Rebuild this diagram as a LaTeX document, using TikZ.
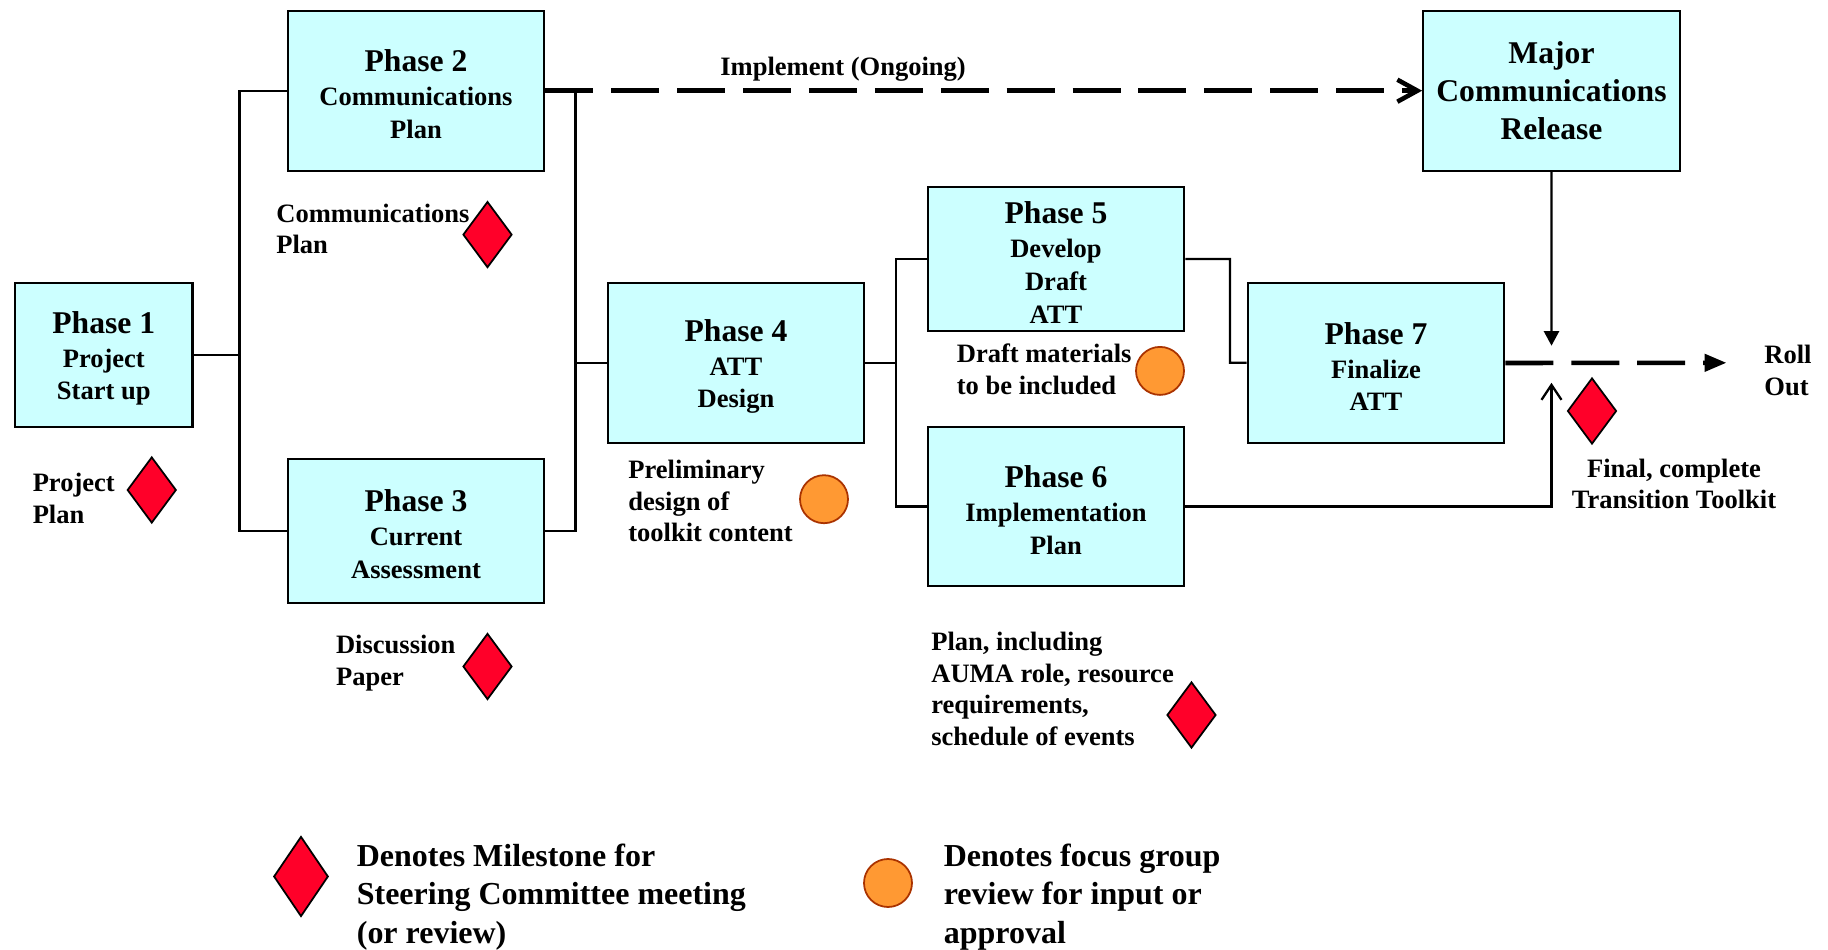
\documentclass[tikz,border=0pt]{standalone}
\usepackage{fontspec}
\setmainfont{Liberation Serif}
\usetikzlibrary{arrows.meta,positioning,shapes.geometric}
\definecolor{boxcyan}{RGB}{204,255,255}
\definecolor{msred}{RGB}{255,0,41}
\definecolor{fgorange}{RGB}{255,153,51}
\definecolor{fgedge}{RGB}{170,51,0}
\newcommand{\phasefont}{\fontsize{18}{18.5}\selectfont\rule{0pt}{16.5pt}}
\tikzset{%
	phasebox/.style  = {draw, rectangle, fill=boxcyan, line width=1.3pt, minimum width=5.13cm, minimum height=3.2cm, inner sep=0pt, align=center, font=\fontsize{15.1}{18.5}\selectfont\bfseries}, % Phase
	release/.style   = {phasebox, font=\fontsize{18}{21.6}\selectfont\bfseries}, % Release
	milestone/.style = {draw, diamond, fill=msred, line width=1pt, inner sep=0pt, minimum width=0.98cm, minimum height=1.32cm}, % Milestone
	focus/.style     = {draw=fgedge, circle, fill=fgorange, line width=1pt, inner sep=0pt, minimum size=0.96cm}, % Focus group
	note/.style      = {inner sep=0pt, align=left, anchor=base west, font=\fontsize{15.1}{17.9}\selectfont\bfseries}, % Label
	legendtext/.style= {inner sep=0pt, align=left, anchor=base west, font=\fontsize{18.2}{21.8}\selectfont\bfseries}, % Legend
	link/.style      = {line width=1.3pt},
	ongoing/.style   = {line width=2.6pt, dash pattern=on 27.3pt off 10.2pt},
}

\begin{document}
\begin{tikzpicture}[node distance=5cm]
	\useasboundingbox (0,0) rectangle (36.56,-19);
	\node [phasebox, minimum width=3.55cm, minimum height=2.89cm] (p1) at (2.076,-7.10) {{\phasefont Phase 1}\\[0.85pt]Project\\Start up};
	\node [phasebox] (p2) at (8.32,-1.814) {{\phasefont Phase 2}\\[0.85pt]Communications\\Plan};
	\node [phasebox, minimum height=2.88cm] (p3) [below of=p2, node distance=8.80cm] {{\phasefont Phase 3}\\[0.85pt]Current\\Assessment};
	\node [phasebox] (p4) at (14.72,-7.26) {{\phasefont Phase 4}\\[0.85pt]ATT\\Design};
	\node [phasebox, minimum height=2.88cm] (p5) at (21.12,-5.18) {{\phasefont Phase 5}\\[0.85pt]Develop\\Draft\\ATT};
	\node [phasebox, minimum height=3.18cm] (p6) [below of=p5, node distance=4.95cm] {{\phasefont Phase 6}\\[0.85pt]Implementation\\Plan};
	\node [phasebox] (p7) [right of=p4, node distance=12.80cm] {{\phasefont Phase 7}\\[0.85pt]Finalize\\ATT};
	\node [release] (mcr) [right of=p2, node distance=22.71cm] {Major\\Communications\\Release};

	% labels, placed by the baseline of their last line
	\node [note] (limp) at (14.40,-1.516) {Implement (Ongoing)};
	\node [note] (lcp) at (5.52,-5.08) {Communications\\Plan};
	\node [note] (lpp) at (0.648,-10.46) {Project\\Plan};
	\node [note] (ldp) at (6.714,-13.70) {Discussion\\Paper};
	\node [note] (lpd) at (12.56,-10.83) {Preliminary\\design of\\toolkit content};
	\node [note] (ldm) at (19.13,-7.884) {Draft materials\\to be included};
	\node [note] (lip) at (18.62,-14.90) {Plan, including\\AUMA role, resource\\requirements,\\schedule of events};
	\node [note, anchor=base, align=center] (lfin) at (33.48,-10.178) {Final, complete\\Transition Toolkit};
	\node [note] (lroll) at (35.28,-7.906) {Roll\\Out};

	\node [milestone] (mcp) at (9.75,-4.692) {};
	\node [milestone] (mpp) at (3.035,-9.80) {};
	\node [milestone] (mdp) at (9.75,-13.33) {};
	\node [milestone] (mip) at (23.83,-14.30) {};
	\node [milestone] (mfin) at (31.84,-8.22) {};
	\node [focus] (fdm) at (23.2,-7.418) {};
	\node [focus] (fpd) at (16.48,-9.984) {};

	% legend
	\node [milestone, minimum width=1.09cm, minimum height=1.6cm] (mleg) at (6.02,-17.53) {};
	\node [legendtext] (lmleg) at (7.13,-18.866) {Denotes Milestone for\\Steering Committee meeting\\(or review)};
	\node [focus] (fleg) at (17.76,-17.66) {};
	\node [legendtext] (lfleg) at (18.87,-18.866) {Denotes focus group\\review for input or\\approval};

	\coordinate (b1) at (4.792,-7.10);
	\coordinate (b2) at (11.508,-7.26);
	\coordinate (b3) at (17.914,-7.26);
	\coordinate (b4) at (24.60,-7.256);
	\coordinate (jtop) at (31.03,-6.914);
	\coordinate (jbot) at (31.03,-7.656);
	\coordinate (rollend) at (34.53,-7.256);

	\draw[link] (p1) -- (b1);
	\draw[link] (p2.west) -| (b1) |- (p3.west);
	\draw[link] (p2.east) -| (b2) |- (p3.east);
	\draw[link] (b2) -- (p4);
	\draw[link] (p4) -- (b3);
	\draw[link] (p5.west) -| (b3) |- (p6.west);
	\draw[link] (p5.east) -| (b4) -- (p7);
	\draw[ongoing, -{Straight Barb[length=0.4cm,width=0.44cm]}] (p2.east) -- (mcr.west);
	\draw[link, -{Triangle[length=0.29cm,width=0.3cm]}] (mcr) -- (jtop);
	\draw[link, -{Straight Barb[length=0.3cm,width=0.4cm]}] (p6.east) -| (jbot);
	\draw[ongoing, -{Triangle[length=0.44cm,width=0.34cm]}] (p7.east) -- (rollend);
\end{tikzpicture}
\end{document}
